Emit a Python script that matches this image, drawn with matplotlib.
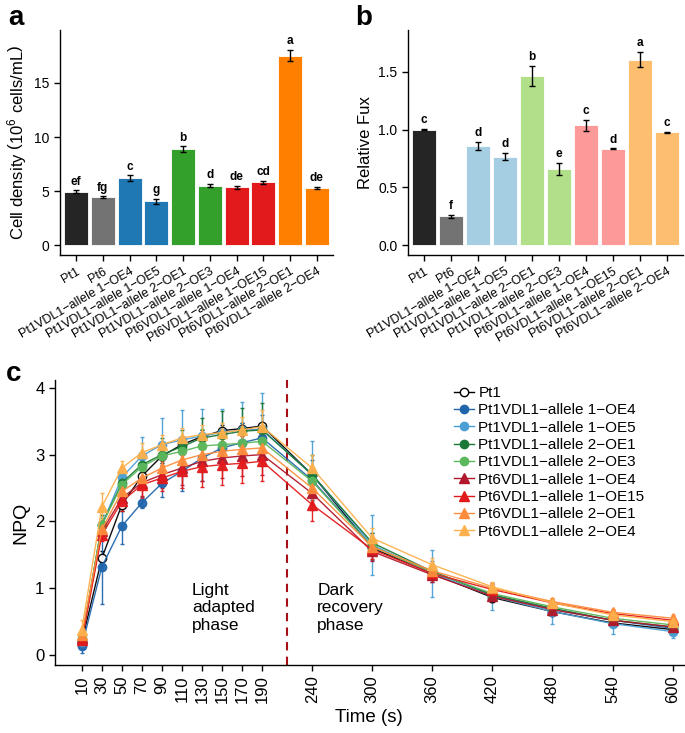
import numpy as np
import matplotlib
matplotlib.use('Agg')
import matplotlib.pyplot as plt
from matplotlib.lines import Line2D

plt.rcParams['font.family'] = ['Liberation Sans', 'DejaVu Sans']
plt.rcParams['mathtext.fontset'] = 'custom'
plt.rcParams['mathtext.rm'] = 'Liberation Sans'

strains = ['Pt1', 'Pt6',
           'Pt1VDL1\u2212allele 1\u2212OE4', 'Pt1VDL1\u2212allele 1\u2212OE5',
           'Pt1VDL1\u2212allele 2\u2212OE1', 'Pt1VDL1\u2212allele 2\u2212OE3',
           'Pt6VDL1\u2212allele 1\u2212OE4', 'Pt6VDL1\u2212allele 1\u2212OE15',
           'Pt6VDL1\u2212allele 2\u2212OE1', 'Pt6VDL1\u2212allele 2\u2212OE4']

# panel a: cell density
density = [4.95, 4.45, 6.19, 4.05, 8.88, 5.50, 5.35, 5.81, 17.54, 5.29]
density_err = [0.12, 0.06, 0.25, 0.22, 0.25, 0.15, 0.12, 0.13, 0.55, 0.12]
density_letters = ['ef', 'fg', 'c', 'g', 'b', 'd', 'de', 'cd', 'a', 'de']
colors_a = ['#252525', '#737373', '#1f78b4', '#1f78b4', '#33a02c', '#33a02c',
            '#e31a1c', '#e31a1c', '#ff7f00', '#ff7f00']

# panel b: relative flux
flux = [1.0, 0.248, 0.859, 0.764, 1.462, 0.657, 1.035, 0.833, 1.605, 0.977]
flux_err = [0.004, 0.01, 0.035, 0.03, 0.09, 0.05, 0.045, 0.003, 0.065, 0.003]
flux_letters = ['c', 'f', 'd', 'd', 'b', 'e', 'c', 'd', 'a', 'c']
colors_b = ['#252525', '#737373', '#a6cee3', '#a6cee3', '#b2df8a', '#b2df8a',
            '#fb9a99', '#fb9a99', '#fdbf6f', '#fdbf6f']

# panel c: NPQ kinetics
time = [10, 30, 50, 70, 90, 110, 130, 150, 170, 190, 240, 300, 360, 420, 480, 540, 600]
npq_names = ['Pt1',
             'Pt1VDL1\u2212allele 1\u2212OE4', 'Pt1VDL1\u2212allele 1\u2212OE5',
             'Pt1VDL1\u2212allele 2\u2212OE1', 'Pt1VDL1\u2212allele 2\u2212OE3',
             'Pt6VDL1\u2212allele 1\u2212OE4', 'Pt6VDL1\u2212allele 1\u2212OE15',
             'Pt6VDL1\u2212allele 2\u2212OE1', 'Pt6VDL1\u2212allele 2\u2212OE4']
npq_colors = ['black', '#2166ac', '#4c9fd5', '#1b7837', '#5cb85c',
              '#b2182b', '#e31a1c', '#fd8d3c', '#fdb04b']
npq_markers = ['o', 'o', 'o', 'o', 'o', '^', '^', '^', '^']

npq_pt1 = [0.20, 1.45, 2.25, 2.68, 2.98, 3.15, 3.27, 3.36, 3.39, 3.43, 2.70, 1.60, 1.22, 0.86, 0.65, 0.48, 0.38]
npq_oe4a = [0.13, 1.32, 1.93, 2.28, 2.57, 2.75, 2.95, 3.10, 3.18, 3.25, 2.62, 1.62, 1.25, 0.90, 0.68, 0.52, 0.40]
npq_oe5a = [0.20, 1.95, 2.66, 2.98, 3.15, 3.22, 3.28, 3.33, 3.37, 3.38, 2.70, 1.65, 1.22, 0.88, 0.65, 0.47, 0.35]
npq_oe1b = [0.22, 1.95, 2.58, 2.85, 3.00, 3.12, 3.25, 3.30, 3.35, 3.37, 2.70, 1.68, 1.25, 0.90, 0.70, 0.52, 0.42]
npq_oe3b = [0.25, 1.95, 2.55, 2.82, 2.98, 3.05, 3.13, 3.15, 3.17, 3.20, 2.60, 1.62, 1.24, 0.92, 0.72, 0.55, 0.45]
npq_6oe4a = [0.25, 1.85, 2.35, 2.58, 2.70, 2.80, 2.90, 2.95, 2.98, 3.00, 2.42, 1.55, 1.20, 0.88, 0.68, 0.52, 0.42]
npq_6oe15a = [0.22, 1.80, 2.30, 2.55, 2.65, 2.75, 2.82, 2.85, 2.87, 2.90, 2.25, 1.58, 1.22, 0.98, 0.78, 0.62, 0.52]
npq_6oe1b = [0.30, 1.88, 2.45, 2.65, 2.80, 2.92, 3.00, 3.05, 3.08, 3.10, 2.50, 1.62, 1.26, 1.00, 0.80, 0.64, 0.55]
npq_6oe4b = [0.38, 2.22, 2.80, 3.03, 3.15, 3.25, 3.30, 3.33, 3.37, 3.42, 2.80, 1.75, 1.35, 1.02, 0.78, 0.60, 0.50]

err_pt1 = [0.05, 0.10, 0.10, 0.12, 0.10, 0.10, 0.10, 0.08, 0.08, 0.05, 0.10, 0.10, 0.08, 0.05, 0.05, 0.04, 0.04]
err_oe4a = [0.10, 0.55, 0.27, 0.08, 0.20, 0.30, 0.35, 0.30, 0.30, 0.35, 0.30, 0.20, 0.15, 0.10, 0.10, 0.08, 0.06]
err_oe5a = [0.05, 0.15, 0.15, 0.28, 0.40, 0.45, 0.40, 0.35, 0.42, 0.55, 0.50, 0.45, 0.35, 0.20, 0.18, 0.15, 0.10]
err_oe1b = [0.05, 0.15, 0.12, 0.15, 0.25, 0.25, 0.30, 0.35, 0.35, 0.40, 0.30, 0.15, 0.10, 0.08, 0.06, 0.05, 0.05]
err_oe3b = [0.05, 0.10, 0.10, 0.12, 0.15, 0.20, 0.25, 0.20, 0.20, 0.25, 0.20, 0.10, 0.08, 0.06, 0.05, 0.05, 0.04]
err_6oe4a = [0.05, 0.10, 0.15, 0.20, 0.20, 0.25, 0.30, 0.30, 0.30, 0.30, 0.25, 0.15, 0.10, 0.08, 0.06, 0.05, 0.05]
err_6oe15a = [0.05, 0.10, 0.15, 0.20, 0.20, 0.25, 0.30, 0.30, 0.30, 0.30, 0.25, 0.15, 0.10, 0.08, 0.06, 0.05, 0.05]
err_6oe1b = [0.05, 0.10, 0.10, 0.15, 0.15, 0.20, 0.20, 0.20, 0.20, 0.20, 0.20, 0.12, 0.10, 0.08, 0.06, 0.05, 0.05]
err_6oe4b = [0.15, 0.20, 0.10, 0.15, 0.15, 0.15, 0.15, 0.15, 0.20, 0.25, 0.20, 0.15, 0.10, 0.08, 0.06, 0.05, 0.05]

npq_values = [npq_pt1, npq_oe4a, npq_oe5a, npq_oe1b, npq_oe3b,
              npq_6oe4a, npq_6oe15a, npq_6oe1b, npq_6oe4b]
npq_errors = [err_pt1, err_oe4a, err_oe5a, err_oe1b, err_oe3b,
              err_6oe4a, err_6oe15a, err_6oe1b, err_6oe4b]

fig = plt.figure(figsize=(6.85, 7.33), dpi=100)


def style_axes(ax, fs):
    for s in ['top', 'right']:
        ax.spines[s].set_visible(False)
    for s in ['left', 'bottom']:
        ax.spines[s].set_linewidth(1.0)
    ax.tick_params(direction='out', length=4, width=1.0, labelsize=fs, colors='black')


def bar_panel(ax, vals, errs, letters, cols, ylabel, yticks, ylim, pad):
    x = np.arange(len(vals))
    ax.bar(x, vals, width=0.9, color=cols, edgecolor='white', linewidth=0.6)
    ax.errorbar(x, vals, yerr=errs, fmt='none', ecolor='black', elinewidth=1.0, capsize=2.5, capthick=1.0)
    for xi, v, e, lab in zip(x, vals, errs, letters):
        ax.text(xi, v + e + pad, lab, ha='center', va='bottom', fontsize=8.5, fontweight='bold')
    ax.set_xlim(-0.6, len(vals) - 0.4)
    ax.set_ylim(*ylim)
    ax.set_yticks(yticks)
    style_axes(ax, 10)
    ax.set_xticks(x)
    ax.set_xticklabels(strains, rotation=30, ha='right', rotation_mode='anchor', fontsize=9)
    ax.set_ylabel(ylabel, fontsize=12)


ax_a = fig.add_axes([0.0876, 0.652, 0.3985, 0.307])
bar_panel(ax_a, density, density_err, density_letters, colors_a,
          r'Cell density $\left(10^6\ \mathrm{cells/mL}\right)$',
          [0, 5, 10, 15], (-0.93, 19.9), 0.25)

ax_b = fig.add_axes([0.5956, 0.652, 0.4015, 0.307])
bar_panel(ax_b, flux, flux_err, flux_letters, colors_b,
          'Relative Fux', [0, 0.5, 1.0, 1.5], (-0.086, 1.86), 0.025)
ax_b.set_yticklabels(['0.0', '0.5', '1.0', '1.5'])

# panel c
ax_c = fig.add_axes([0.080, 0.0928, 0.918, 0.389])
handles = []
for name, vals, errs, col, mk in zip(npq_names, npq_values, npq_errors, npq_colors, npq_markers):
    face = 'white' if name == 'Pt1' else col
    ms = 7 if mk == '^' else 6
    ax_c.errorbar(time, vals, yerr=errs, color=col, ecolor=col, elinewidth=1.0, capsize=1.2,
                  linewidth=1.0, marker=mk, markersize=ms,
                  markerfacecolor=face, markeredgecolor=col, markeredgewidth=1.0, alpha=0.95)
    handles.append(Line2D([], [], color=col, linewidth=1.0, marker=mk, markersize=ms,
                          markerfacecolor=face, markeredgecolor=col, label=name))
ax_c.axvline(215, color='#a50f15', linestyle=(0, (4, 3)), linewidth=1.5)
ax_c.text(120, 1.08, 'Light\nadapted\nphase', ha='left', va='top', fontsize=12.5, linespacing=1.2)
ax_c.text(245, 1.08, 'Dark\nrecovery\nphase', ha='left', va='top', fontsize=12.5, linespacing=1.2)
ax_c.set_xlim(-17, 611)
ax_c.set_ylim(-0.15, 4.12)
style_axes(ax_c, 12)
ax_c.set_xticks(time)
ax_c.set_xticklabels([str(t) for t in time], rotation=90)
ax_c.set_yticks([0, 1, 2, 3, 4])
ax_c.set_xlabel('Time (s)', fontsize=13.5)
ax_c.set_ylabel('NPQ', fontsize=14)
ax_c.legend(handles=handles, loc='upper left', bbox_to_anchor=(0.625, 1.0), frameon=False,
            fontsize=11, handlelength=1.3, handletextpad=0.3, labelspacing=0.22, borderaxespad=0)

fig.text(0.012, 0.975, 'a', fontsize=20, fontweight='bold', va='center')
fig.text(0.518, 0.975, 'b', fontsize=20, fontweight='bold', va='center')
fig.text(0.008, 0.49, 'c', fontsize=20, fontweight='bold', va='center')

fig.savefig('out.png', dpi=100)
